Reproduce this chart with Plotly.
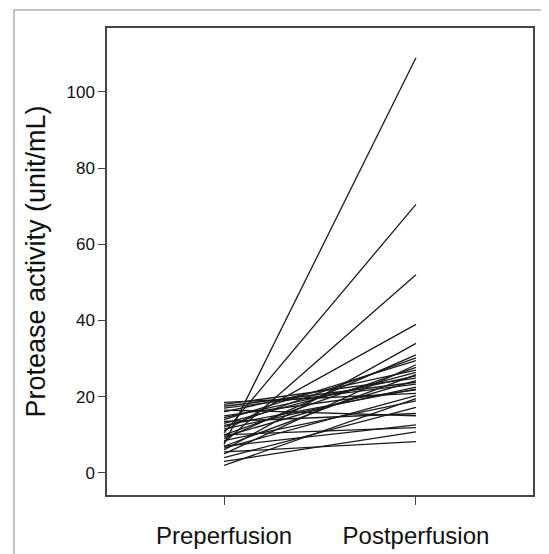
import plotly.graph_objects as go

categories = ["Preperfusion", "Postperfusion"]

pre = [7.5, 10.5, 8, 11, 6, 9, 12, 14, 5, 10, 16, 13, 7, 18, 9.5, 17,
       11.5, 15, 18.5, 6.5, 12.5, 17.5, 8.5, 4, 13.5, 16.5, 7, 10, 3, 5.5, 2, 14.5]
post = [109, 70.5, 52, 39, 34, 31, 30.2, 29.5, 28.4, 27.7, 27, 26.4, 25.8, 24.9, 24.2, 23.3,
        22.5, 21.8, 20.9, 20.3, 22, 23.8, 18.9, 17.2, 15.6, 15, 12.6, 11.9, 10.8, 8.2, 19.5, 25.5]

y_ticks = [0, 20, 40, 60, 80, 100]

xs, ys = [], []
for a, b in zip(pre, post):
    xs += [categories[0], categories[1], None]
    ys += [a, b, None]

fig = go.Figure()
fig.add_trace(go.Scatter(x=xs, y=ys, mode="lines",
                         line=dict(color="#1a1a1a", width=1.3),
                         connectgaps=False, showlegend=False, hoverinfo="skip"))

L, T, W, H = 99, 20, 426, 467
fig.update_layout(
    width=549, height=554,
    margin=dict(l=L, r=549 - L - W, t=T, b=554 - T - H),
    paper_bgcolor="white", plot_bgcolor="white",
    font=dict(family="Liberation Sans, Arial, sans-serif", color="#111"),
    xaxis=dict(type="category", categoryorder="array", categoryarray=categories,
               range=[-0.61, 1.61], showgrid=False, zeroline=False,
               showline=True, linecolor="#444", linewidth=1.5, mirror=True,
               ticks="outside", ticklen=8, tickcolor="#444", tickwidth=1.2,
               tickfont=dict(size=24), ticklabelstandoff=10),
    yaxis=dict(range=[-5.8, 116.8], tickvals=y_ticks, showgrid=False, zeroline=False,
               showline=True, linecolor="#444", linewidth=1.5, mirror=True,
               ticks="outside", ticklen=7, tickcolor="#444", tickwidth=1.2,
               tickfont=dict(size=17),
               title=dict(text="Protease activity (unit/mL)", font=dict(size=27), standoff=13)),
)

fig.add_shape(type="rect", xref="paper", yref="paper",
              x0=(6 - L) / W, x1=(580 - L) / W,
              y0=(T + H - 580) / H, y1=(T + H - 2) / H,
              line=dict(color="#b0b0b0", width=1.5), layer="below")

fig.write_html("out.html")
